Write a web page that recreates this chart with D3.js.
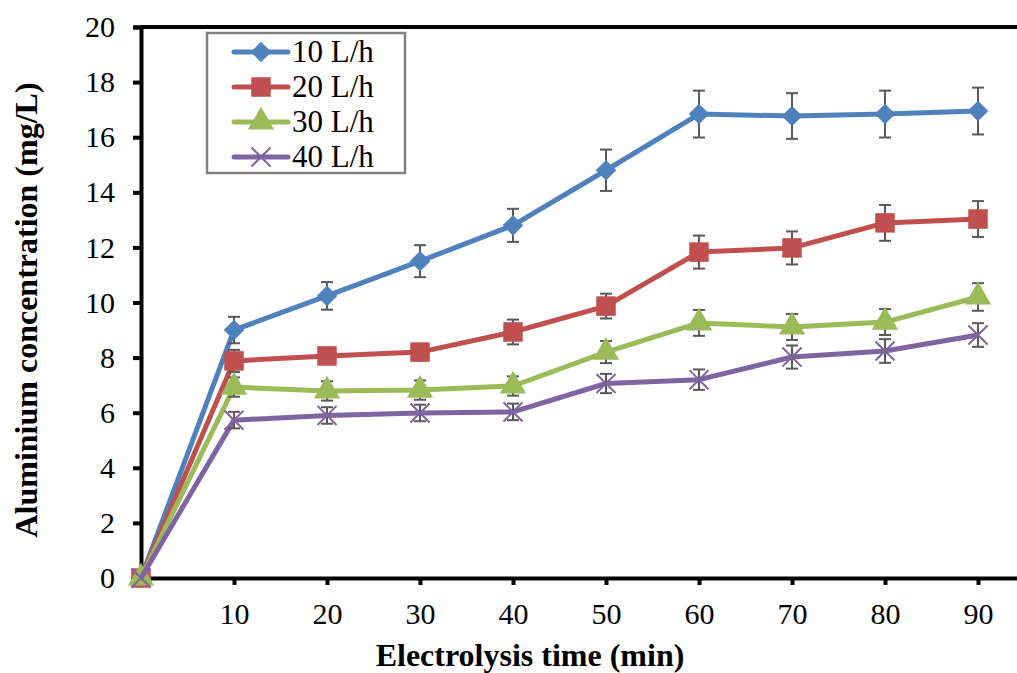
<!DOCTYPE html>
<html>
<head>
<meta charset="utf-8">
<script src="https://cdn.jsdelivr.net/npm/d3@7"></script>
<style>
  body { margin: 0; background: #fff; }
  svg text { font-family: "Liberation Serif", "Times New Roman", serif; fill: #000; }
</style>
</head>
<body>
<div id="chart"></div>
<script>
// data
const times = [0, 10, 20, 30, 40, 50, 60, 70, 80, 90];
const seriesNames = ["10 L/h", "20 L/h", "30 L/h", "40 L/h"];
const flow10 = [0, 9.0, 10.24, 11.5, 12.8, 14.8, 16.84, 16.77, 16.84, 16.95];
const flow20 = [0, 7.88, 8.06, 8.2, 8.93, 9.87, 11.83, 11.98, 12.89, 13.03];
const flow30 = [0, 6.93, 6.79, 6.82, 6.97, 8.2, 9.26, 9.11, 9.29, 10.2];
const flow40 = [0, 5.73, 5.9, 5.99, 6.03, 7.06, 7.2, 8.02, 8.24, 8.82];
const err10 = [0, 0.48, 0.5, 0.58, 0.6, 0.75, 0.85, 0.83, 0.85, 0.85];
const err20 = [0, 0.4, 0.3, 0.3, 0.45, 0.45, 0.6, 0.6, 0.65, 0.65];
const err30 = [0, 0.35, 0.35, 0.35, 0.35, 0.4, 0.47, 0.47, 0.47, 0.5];
const err40 = [0, 0.3, 0.3, 0.3, 0.3, 0.35, 0.37, 0.42, 0.43, 0.43];
const xTicks = [10, 20, 30, 40, 50, 60, 70, 80, 90];
const yTicks = [0, 2, 4, 6, 8, 10, 12, 14, 16, 18, 20];

const colors = ["#4F81BD", "#C0504D", "#9BBB59", "#8064A2"];
const symbols = [d3.symbolDiamond2, d3.symbolSquare, d3.symbolTriangle, d3.symbolX];
const symbolSizes = [270, 380, 300, 240];

const series = [flow10, flow20, flow30, flow40].map((vals, i) => ({
  name: seriesNames[i],
  color: colors[i],
  symbol: symbols[i],
  size: symbolSizes[i],
  points: times.map((t, j) => ({ t: t, v: vals[j], e: [err10, err20, err30, err40][i][j] }))
}));

const svgWidth = 1017, svgHeight = 673;
const margin = { left: 141, top: 27, bottom: 95 };

const svg = d3.select("#chart").append("svg")
  .attr("width", svgWidth)
  .attr("height", svgHeight);

// x runs to 100, which falls outside the crop on the right
const x = d3.scaleLinear().domain([0, 100]).range([margin.left, margin.left + 930]);
const y = d3.scaleLinear().domain([0, 20]).range([svgHeight - margin.bottom, margin.top]);

// frame top line
svg.append("line")
  .attr("x1", margin.left).attr("x2", svgWidth)
  .attr("y1", y(20)).attr("y2", y(20))
  .attr("stroke", "#000").attr("stroke-width", 4);

// y axis
const yAxis = svg.append("g")
  .attr("transform", `translate(${margin.left},0)`)
  .call(d3.axisLeft(y).tickValues(yTicks).tickSize(8).tickPadding(18));
yAxis.select(".domain").attr("stroke-width", 4);
yAxis.selectAll(".tick line").attr("stroke-width", 4);
yAxis.selectAll(".tick text").style("font-size", "30px");

// x axis
const xAxis = svg.append("g")
  .attr("transform", `translate(0,${y(0)})`)
  .call(d3.axisBottom(x).tickValues(xTicks).tickSize(7).tickPadding(18));
xAxis.select(".domain").attr("stroke-width", 4);
xAxis.selectAll(".tick line").attr("stroke-width", 4);
xAxis.selectAll(".tick text").style("font-size", "30px");

// axis titles
svg.append("text")
  .attr("x", 530).attr("y", 666)
  .attr("text-anchor", "middle")
  .style("font-size", "32px").style("font-weight", "bold")
  .text("Electrolysis time (min)");

svg.append("text")
  .attr("transform", `translate(37,310) rotate(-90)`)
  .attr("text-anchor", "middle")
  .style("font-size", "32px").style("font-weight", "bold")
  .text("Aluminium concentration (mg/L)");

const line = d3.line().x(d => x(d.t)).y(d => y(d.v));

function drawMarker(sel, s) {
  const isX = s.symbol === d3.symbolX;
  sel.attr("d", d3.symbol().type(s.symbol).size(s.size))
    .attr("fill", isX ? "none" : s.color)
    .attr("stroke", s.color)
    .attr("stroke-width", isX ? 2 : 0);
}

series.forEach(s => {
  const g = svg.append("g");

  g.append("path")
    .datum(s.points)
    .attr("d", line)
    .attr("fill", "none")
    .attr("stroke", s.color)
    .attr("stroke-width", 5)
    .attr("stroke-linejoin", "round");

  // error bars
  const withErr = s.points.filter(d => d.e > 0);
  const bars = g.selectAll(".err").data(withErr).join("g").attr("stroke", "#595959").attr("stroke-width", 2);
  bars.append("line")
    .attr("x1", d => x(d.t)).attr("x2", d => x(d.t))
    .attr("y1", d => y(d.v + d.e)).attr("y2", d => y(d.v - d.e));
  bars.append("line")
    .attr("x1", d => x(d.t) - 6).attr("x2", d => x(d.t) + 6)
    .attr("y1", d => y(d.v + d.e)).attr("y2", d => y(d.v + d.e));
  bars.append("line")
    .attr("x1", d => x(d.t) - 6).attr("x2", d => x(d.t) + 6)
    .attr("y1", d => y(d.v - d.e)).attr("y2", d => y(d.v - d.e));

  // markers
  g.selectAll(".mark").data(s.points).join("path")
    .attr("transform", d => `translate(${x(d.t)},${y(d.v)})`)
    .call(drawMarker, s);
});

// legend
const legend = svg.append("g");
legend.append("rect")
  .attr("x", 207).attr("y", 33).attr("width", 198).attr("height", 140)
  .attr("fill", "#fff").attr("stroke", "#808080").attr("stroke-width", 2.5);

series.forEach((s, i) => {
  const ly = 52 + i * 35;
  legend.append("line")
    .attr("x1", 234).attr("x2", 288).attr("y1", ly).attr("y2", ly)
    .attr("stroke", s.color).attr("stroke-width", 5).attr("stroke-linecap", "round");
  legend.append("path")
    .attr("transform", `translate(261,${ly})`)
    .call(drawMarker, s);
  legend.append("text")
    .attr("x", 292).attr("y", ly + 10)
    .style("font-size", "31px")
    .text(s.name);
});
</script>
</body>
</html>
